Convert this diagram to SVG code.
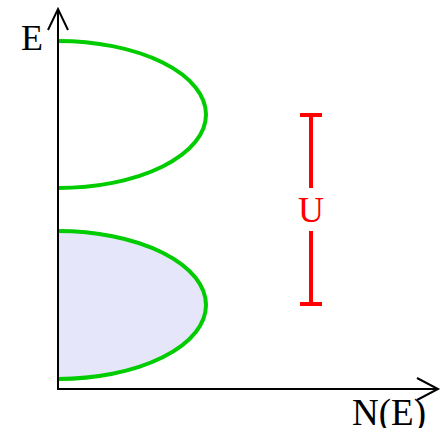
<svg xmlns="http://www.w3.org/2000/svg" width="448" height="428" viewBox="0 0 448 428">
<style>
.ax{fill:none;stroke:#000;stroke-width:2}
.band{stroke:#00cc00;stroke-width:4}
.red{stroke:#ff0000;stroke-width:4;fill:none}
text{font-family:"Liberation Serif","Times New Roman",serif}
</style>
<g id="lower-band"><path class="band" d="M58,231 A148,74 0 0 1 58,379" fill="#e6e6fa"/></g>
<g id="upper-band"><path class="band" d="M58,41 A148,73.5 0 0 1 58,188" fill="none"/></g>
<g id="axes">
<path class="ax" d="M58,390 V9 M48,30 L58,9 L68,30"/>
<path class="ax" d="M57,389 H438 M417,378 L438,389 L417,400"/>
</g>
<g id="labels">
<text x="21" y="50" font-size="36">E</text>
<text x="352" y="425" font-size="37">N(E)</text>
</g>
<g id="gap">
<path class="red" d="M311,115 V188 M311,231 V304 M300,115 H322 M300,304 H322"/>
<text x="311" y="222" font-size="36" fill="#ff0000" text-anchor="middle">U</text>
</g>
</svg>
